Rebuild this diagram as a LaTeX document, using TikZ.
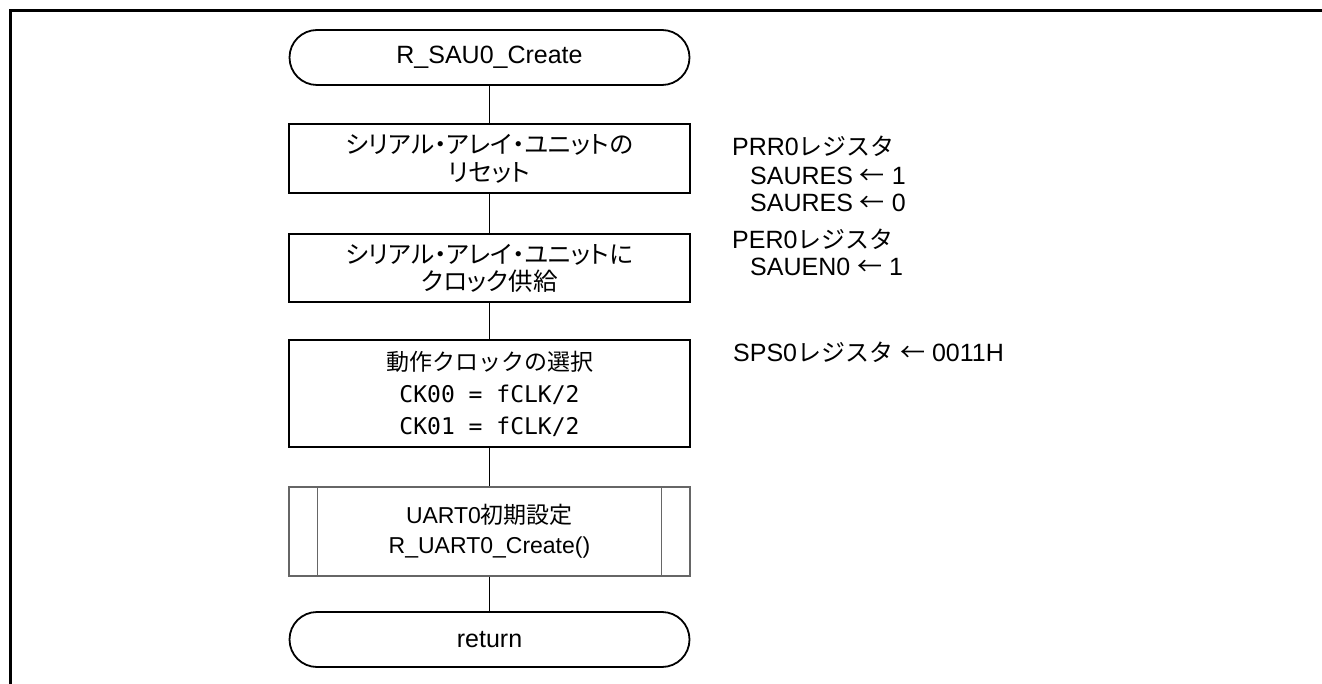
\documentclass[tikz,border=0pt]{standalone}
\usepackage{fontspec}
\setmainfont{Liberation Sans}
\newfontfamily\jp{Noto Sans CJK JP}
\newfontfamily\jpp[RawFeature=+palt]{Noto Sans CJK JP}
\newfontfamily\monofnt{DejaVu Sans Mono}
\begin{document}
\begin{tikzpicture}[x=1pt,y=-1pt,
  term/.style={draw, line width=1.8pt, rounded corners=27.5pt, minimum width=400pt, minimum height=55pt, inner sep=0pt, align=center, font=\fontsize{25}{28}\selectfont},
  proc/.style={draw, line width=1.8pt, minimum width=401pt, inner sep=0pt, align=center},
  sub/.style={draw=black!60, line width=1.2pt, minimum width=401pt, minimum height=89pt, inner sep=0pt, align=center},
  conn/.style={line width=1.8pt},
  note/.style={anchor=base west, inner sep=0pt, font=\fontsize{25}{28}\selectfont},
  frame/.style={line width=3pt}
]
\useasboundingbox (0,0) rectangle (1322,684);
\draw[frame] (10.5,684) -- (10.5,10.5) -- (1322,10.5);

\node[term] (t1) at (489.5,57.5) {R\_SAU0\_Create};
\node[proc, minimum height=69pt, font=\jpp\fontsize{24.5}{28}\selectfont] (b1) at (489.5,158.5) {シリアル・アレイ・ユニットの\\リセット};
\node[proc, minimum height=68pt, font=\jpp\fontsize{24.5}{27}\selectfont] (b2) at (489.5,268) {シリアル・アレイ・ユニットに\\クロック供給};
\node[proc, minimum height=107pt, font=\jp\fontsize{23}{32}\selectfont] (b3) at (489.5,393.5) {動作クロックの選択\\ \monofnt CK00 = fCLK/2\\ \monofnt CK01 = fCLK/2};
\node[sub, font=\fontsize{23}{30}\selectfont] (b4) at (489.5,531.5) {UART0{\jp 初期設定}\\R\_UART0\_Create()};
\draw[draw=black!60, line width=1.2pt] ([xshift=29pt]b4.north west) -- ([xshift=29pt]b4.south west);
\draw[draw=black!60, line width=1.2pt] ([xshift=-29pt]b4.north east) -- ([xshift=-29pt]b4.south east);
\node[term] (t2) at (489.5,639.5) {return};

\draw[conn] (t1) -- (b1);
\draw[conn] (b1) -- (b2);
\draw[conn] (b2) -- (b3);
\draw[conn] (b3) -- (b4);
\draw[conn] (b4) -- (t2);

\node[note] (r1) at (732,156) {PRR0{\jp\fontsize{24}{28}\selectfont レジスタ}};
\node[note] (r2) at (750,185) {SAURES {\jp ←} 1};
\node[note] (r3) at (750,212) {SAURES {\jp ←} 0};
\node[note] (r4) at (732,249) {PER0{\jp\fontsize{24}{28}\selectfont レジスタ}};
\node[note] (r5) at (750,276) {SAUEN0 {\jp ←} 1};
\node[note] (r6) at (733,362) {SPS0{\jp\fontsize{24}{28}\selectfont レジスタ} {\jp ←} 0011H};
\end{tikzpicture}
\end{document}
